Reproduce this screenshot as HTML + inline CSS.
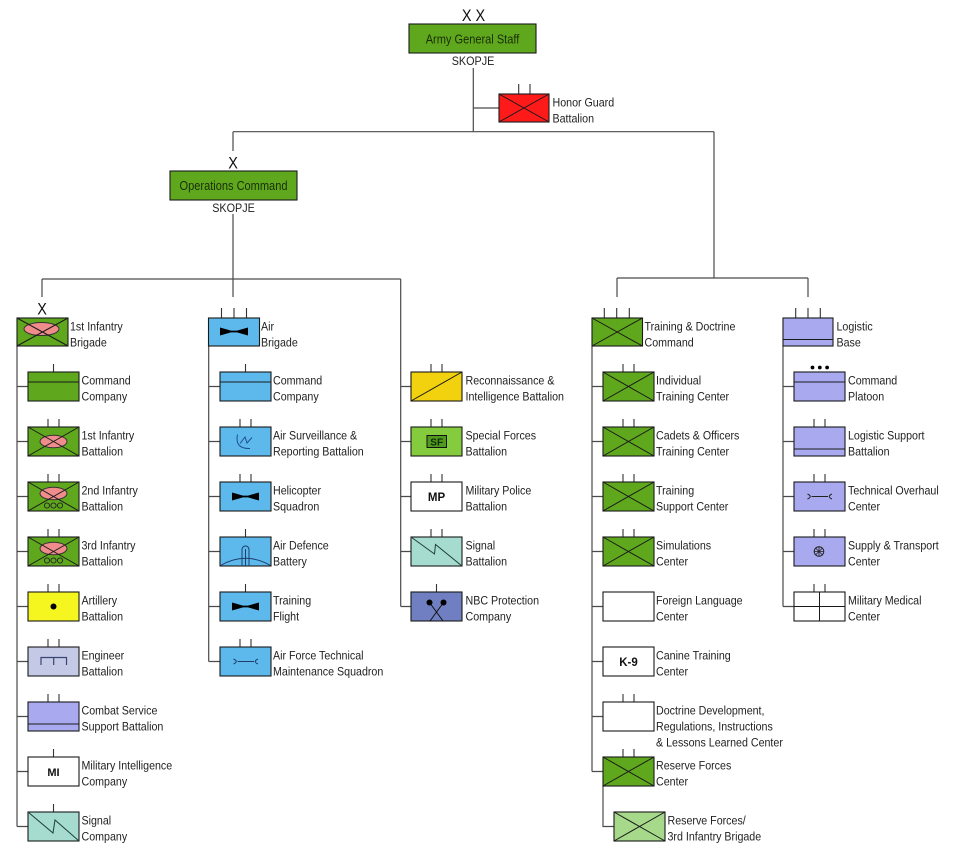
<!DOCTYPE html>
<html><head><meta charset="utf-8"><style>
html,body{margin:0;padding:0;background:#fff;}
svg{display:block;}
text{font-family:"Liberation Sans",Arial,sans-serif;font-size:12px;fill:#222;}
.ln{stroke:#4a4a4a;stroke-width:1.2;fill:none;}
.bx{stroke:#1a1a1a;stroke-width:1.1;}
.tk{stroke:#333;stroke-width:1.1;}
.xl{stroke:#1a1a1a;stroke-width:1;}
.g{fill:#5fa81e;}
.bl{fill:#5db9ec;}
.lv{fill:#a9a9f0;}
.w{fill:#fff;}
.b{font-weight:bold;}
</style></head><body>
<svg width="960" height="855" viewBox="0 0 960 855" xmlns="http://www.w3.org/2000/svg">

<!-- connectors -->
<path class="ln" d="M473.3,68 V131.7 M473.3,108 H499 M233,131.7 H714 M233,131.7 V151 M233,214 V279 M42,279 H400.7 M42,279 V297 M233,279 V297 M400.7,279 V606.5 M714,131.7 V278 M617,278 H808 M617,278 V297 M808,278 V297"/>
<path class="ln" d="M17,346 V826.5 M17,386.5 H28 M17,441.5 H28 M17,496.5 H28 M17,551.5 H28 M17,606.5 H28 M17,661.5 H28 M17,716.5 H28 M17,771.5 H28 M17,826.5 H28"/>
<path class="ln" d="M208.7,346 V661.5 M208.7,386.5 H220 M208.7,441.5 H220 M208.7,496.5 H220 M208.7,551.5 H220 M208.7,606.5 H220 M208.7,661.5 H220"/>
<path class="ln" d="M400.7,386.5 H411 M400.7,441.5 H411 M400.7,496.5 H411 M400.7,551.5 H411 M400.7,606.5 H411"/>
<path class="ln" d="M592,346 V771.5 M592,386.5 H603 M592,441.5 H603 M592,496.5 H603 M592,551.5 H603 M592,606.5 H603 M592,661.5 H603 M592,716.5 H603 M592,771.5 H603 M603,786 V826.5 H614"/>
<path class="ln" d="M783,346 V606.5 M783,386.5 H794 M783,441.5 H794 M783,496.5 H794 M783,551.5 H794 M783,606.5 H794"/>

<!-- TOP -->
<g transform="translate(473.5,21) scale(.85,1)"><text x="0" y="0" text-anchor="middle" style="font-size:17px;fill:#111">X X</text></g>
<rect class="bx g" x="409" y="24" width="127" height="29"/>
<g transform="translate(472.5,43.5) scale(.85,1)"><text x="0" y="0" text-anchor="middle" style="font-size:13px;fill:#1a2e05">Army General Staff</text></g>
<g transform="translate(473,65) scale(.9,1)"><text x="0" y="0" text-anchor="middle">SKOPJE</text></g>

<path class="tk" d="M518.7,84 V94 M530,84 V94"/>
<rect class="bx" x="499" y="94" width="50" height="28" fill="#ff1a1a"/>
<path class="xl" d="M499,94 L549,122 M549,94 L499,122"/>
<g transform="translate(552.5,0) scale(.89,1)"><text y="106.5">Honor Guard</text><text y="122.5">Battalion</text></g>

<g transform="translate(233,168.5) scale(.85,1)"><text x="0" y="0" text-anchor="middle" style="font-size:17px;fill:#111">X</text></g>
<rect class="bx g" x="170" y="171" width="127" height="29"/>
<g transform="translate(233.5,190) scale(.85,1)"><text x="0" y="0" text-anchor="middle" style="font-size:13px;fill:#1a2e05">Operations Command</text></g>
<g transform="translate(233.5,212) scale(.9,1)"><text x="0" y="0" text-anchor="middle">SKOPJE</text></g>

<!-- LEFT COLUMN -->
<g transform="translate(42,314.5) scale(.85,1)"><text x="0" y="0" text-anchor="middle" style="font-size:17px;fill:#111">X</text></g>
<rect class="bx g" x="17" y="318" width="51" height="28"/>
<ellipse cx="41.5" cy="329" rx="17.5" ry="6.5" fill="#f08c8c" stroke="#333" stroke-width="1"/>
<path class="xl" d="M17,318 L68,346 M68,318 L17,346"/>
<g transform="translate(70,0) scale(.89,1)"><text y="330.5">1st Infantry</text><text y="346.5">Brigade</text></g>

<!-- Command Company -->
<path class="tk" d="M53.5,364 V372"/>
<rect class="bx g" x="28" y="372" width="51" height="29"/>
<path class="xl" d="M28,382 H79"/>
<g transform="translate(81.5,0) scale(.89,1)"><text y="384.5">Command</text><text y="400.5">Company</text></g>

<!-- 1st Inf Bn -->
<path class="tk" d="M48,419 V427 M59,419 V427"/>
<rect class="bx g" x="28" y="427" width="51" height="29"/>
<ellipse cx="53.5" cy="441.5" rx="13.5" ry="6.3" fill="#f08c8c" stroke="#333" stroke-width="1"/>
<path class="xl" d="M28,427 L79,456 M79,427 L28,456"/>
<g transform="translate(81.5,0) scale(.89,1)"><text y="439.5">1st Infantry</text><text y="455.5">Battalion</text></g>

<!-- 2nd Inf Bn -->
<path class="tk" d="M48,474 V482 M59,474 V482"/>
<rect class="bx g" x="28" y="482" width="51" height="29"/>
<ellipse cx="53.5" cy="493.5" rx="13.5" ry="6.3" fill="#f08c8c" stroke="#333" stroke-width="1"/>
<path class="xl" d="M28,482 L79,511 M79,482 L28,511"/>
<circle cx="47" cy="505.5" r="2.6" fill="none" stroke="#222" stroke-width=".9"/>
<circle cx="53.5" cy="505.5" r="2.6" fill="none" stroke="#222" stroke-width=".9"/>
<circle cx="60" cy="505.5" r="2.6" fill="none" stroke="#222" stroke-width=".9"/>
<g transform="translate(81.5,0) scale(.89,1)"><text y="494.5">2nd Infantry</text><text y="510.5">Battalion</text></g>

<!-- 3rd Inf Bn -->
<path class="tk" d="M48,529 V537 M59,529 V537"/>
<rect class="bx g" x="28" y="537" width="51" height="29"/>
<ellipse cx="53.5" cy="548.5" rx="13.5" ry="6.3" fill="#f08c8c" stroke="#333" stroke-width="1"/>
<path class="xl" d="M28,537 L79,566 M79,537 L28,566"/>
<circle cx="47" cy="560.5" r="2.6" fill="none" stroke="#222" stroke-width=".9"/>
<circle cx="53.5" cy="560.5" r="2.6" fill="none" stroke="#222" stroke-width=".9"/>
<circle cx="60" cy="560.5" r="2.6" fill="none" stroke="#222" stroke-width=".9"/>
<g transform="translate(81.5,0) scale(.89,1)"><text y="549.5">3rd Infantry</text><text y="565.5">Battalion</text></g>

<!-- Artillery -->
<path class="tk" d="M48,584 V592 M59,584 V592"/>
<rect class="bx" x="28" y="592" width="51" height="29" fill="#f5f51f"/>
<circle cx="53.5" cy="606.5" r="3" fill="#000"/>
<g transform="translate(81.5,0) scale(.89,1)"><text y="604.5">Artillery</text><text y="620.5">Battalion</text></g>

<!-- Engineer -->
<path class="tk" d="M48,639 V647 M59,639 V647"/>
<rect class="bx" x="28" y="647" width="51" height="29" fill="#c4c9e6"/>
<path d="M41,665 V657.5 H66.5 V665 M53.7,657.5 V665" fill="none" stroke="#3a4470" stroke-width="1.2"/>
<g transform="translate(81.5,0) scale(.89,1)"><text y="659.5">Engineer</text><text y="675.5">Battalion</text></g>

<!-- CSS -->
<path class="tk" d="M48,694 V702 M59,694 V702"/>
<rect class="bx lv" x="28" y="702" width="51" height="29"/>
<path class="xl" d="M28,724 H79"/>
<g transform="translate(81.5,0) scale(.89,1)"><text y="714.5">Combat Service</text><text y="730.5">Support Battalion</text></g>

<!-- MI -->
<path class="tk" d="M53.5,749 V757"/>
<rect class="bx w" x="28" y="757" width="51" height="29"/>
<text x="53.5" y="776" text-anchor="middle" class="b" style="font-size:11px;fill:#111">MI</text>
<g transform="translate(81.5,0) scale(.89,1)"><text y="769.5">Military Intelligence</text><text y="785.5">Company</text></g>

<!-- Signal Company -->
<path class="tk" d="M53.5,804 V812"/>
<rect class="bx" x="28" y="812" width="51" height="29" fill="#a6dccf"/>
<path d="M28,812 L53,833 L55,820 L79,841" fill="none" stroke="#1f3f3a" stroke-width="1"/>
<g transform="translate(81.5,0) scale(.89,1)"><text y="824.5">Signal</text><text y="840.5">Company</text></g>

<!-- MIDDLE COLUMN -->
<path class="tk" d="M221.5,308 V318 M234,308 V318 M246.5,308 V318"/>
<rect class="bx bl" x="208.5" y="318" width="51" height="28"/>
<path d="M220,327.5 L231,330.6 L237,330.6 L248,327.5 L248,335.5 L237,332.4 L231,332.4 L220,335.5 Z" fill="#000"/>
<g transform="translate(261,0) scale(.89,1)"><text y="330.5">Air</text><text y="346.5">Brigade</text></g>

<path class="tk" d="M245.5,364 V372"/>
<rect class="bx bl" x="220" y="372" width="51" height="29"/>
<path class="xl" d="M220,382 H271"/>
<g transform="translate(273,0) scale(.89,1)"><text y="384.5">Command</text><text y="400.5">Company</text></g>

<path class="tk" d="M240,419 V427 M251,419 V427"/>
<rect class="bx bl" x="220" y="427" width="51" height="29"/>
<path d="M237.5,434.5 Q234.5,449 250,448.5 M240,443.5 L245,437 L247,443 L252,437.5" fill="none" stroke="#1d4e8c" stroke-width="1"/>
<g transform="translate(273,0) scale(.89,1)"><text y="439.5">Air Surveillance &amp;</text><text y="455.5">Reporting Battalion</text></g>

<path class="tk" d="M240,474 V482 M251,474 V482"/>
<rect class="bx bl" x="220" y="482" width="51" height="29"/>
<path d="M232,492.5 L243,495.6 L248,495.6 L259,492.5 L259,500.5 L248,497.4 L243,497.4 L232,500.5 Z" fill="#000"/>
<g transform="translate(273,0) scale(.89,1)"><text y="494.5">Helicopter</text><text y="510.5">Squadron</text></g>

<path class="tk" d="M245.5,529 V537"/>
<rect class="bx bl" x="220" y="537" width="51" height="29"/>
<path d="M220.5,565.5 Q245.5,551 270.5,565.5" fill="none" stroke="#1d3e6c" stroke-width="1"/>
<path d="M242,566 V549.5 A3.5,3.5 0 0 1 249,549.5 V566 M245.5,549 V566" fill="none" stroke="#1d3e6c" stroke-width="1"/>
<g transform="translate(273,0) scale(.89,1)"><text y="549.5">Air Defence</text><text y="565.5">Battery</text></g>

<path class="tk" d="M245.5,584 V592"/>
<rect class="bx bl" x="220" y="592" width="51" height="29"/>
<path d="M232,602.5 L243,605.6 L248,605.6 L259,602.5 L259,610.5 L248,607.4 L243,607.4 L232,610.5 Z" fill="#000"/>
<g transform="translate(273,0) scale(.89,1)"><text y="604.5">Training</text><text y="620.5">Flight</text></g>

<path class="tk" d="M240,639 V647 M251,639 V647"/>
<rect class="bx bl" x="220" y="647" width="51" height="29"/>
<path d="M233.5,659 Q239,661.5 233.5,664 M237.5,661.5 H254 M258,659 Q252.5,661.5 258,664" fill="none" stroke="#1d3e6c" stroke-width="1"/>
<g transform="translate(273,0) scale(.89,1)"><text y="659.5">Air Force Technical</text><text y="675.5">Maintenance Squadron</text></g>

<!-- THIRD COLUMN -->
<path class="tk" d="M431,364 V372 M442,364 V372"/>
<rect class="bx" x="411" y="372" width="51" height="29" fill="#f2d20f"/>
<path class="xl" d="M411,401 L462,372"/>
<g transform="translate(465.5,0) scale(.89,1)"><text y="384.5">Reconnaissance &amp;</text><text y="400.5">Intelligence Battalion</text></g>

<path class="tk" d="M431,419 V427 M442,419 V427"/>
<rect class="bx" x="411" y="427" width="51" height="29" fill="#84cc3e"/>
<rect x="427" y="435.5" width="19.5" height="12" fill="#4f9a1e" stroke="#111" stroke-width="1"/>
<text x="436.7" y="445.5" text-anchor="middle" class="b" style="font-size:10px;fill:#0f2a05">SF</text>
<g transform="translate(465.5,0) scale(.89,1)"><text y="439.5">Special Forces</text><text y="455.5">Battalion</text></g>

<path class="tk" d="M431,474 V482 M442,474 V482"/>
<rect class="bx w" x="411" y="482" width="51" height="29"/>
<text x="436.5" y="501" text-anchor="middle" class="b" style="font-size:11.5px;fill:#111">MP</text>
<g transform="translate(465.5,0) scale(.89,1)"><text y="494.5">Military Police</text><text y="510.5">Battalion</text></g>

<path class="tk" d="M431,529 V537 M442,529 V537"/>
<rect class="bx" x="411" y="537" width="51" height="29" fill="#a6dccf"/>
<path d="M411,537 L434.5,554 L435.5,544.5 L462,566" fill="none" stroke="#1f3f3a" stroke-width="1"/>
<g transform="translate(465.5,0) scale(.89,1)"><text y="549.5">Signal</text><text y="565.5">Battalion</text></g>

<path class="tk" d="M436.5,584 V592"/>
<rect class="bx" x="411" y="592" width="51" height="29" fill="#6f7fc1"/>
<path d="M429.5,602.5 L443,621 M443.5,602.5 L430,621" fill="none" stroke="#111" stroke-width="1"/>
<circle cx="429.5" cy="602.5" r="3" fill="#000"/>
<circle cx="443.5" cy="602.5" r="3" fill="#000"/>
<g transform="translate(465.5,0) scale(.89,1)"><text y="604.5">NBC Protection</text><text y="620.5">Company</text></g>

<!-- TRAINING & DOCTRINE -->
<path class="tk" d="M604.3,308 V318 M616.7,308 V318 M629.3,308 V318"/>
<rect class="bx g" x="592" y="318" width="50.5" height="28"/>
<path class="xl" d="M592,318 L642.5,346 M642.5,318 L592,346"/>
<g transform="translate(644.5,0) scale(.89,1)"><text y="330.5">Training &amp; Doctrine</text><text y="346.5">Command</text></g>

<path class="tk" d="M623,364 V372 M634,364 V372"/>
<rect class="bx g" x="603" y="372" width="51" height="29"/>
<path class="xl" d="M603,372 L654,401 M654,372 L603,401"/>
<g transform="translate(656,0) scale(.89,1)"><text y="384.5">Individual</text><text y="400.5">Training Center</text></g>

<path class="tk" d="M623,419 V427 M634,419 V427"/>
<rect class="bx g" x="603" y="427" width="51" height="29"/>
<path class="xl" d="M603,427 L654,456 M654,427 L603,456"/>
<g transform="translate(656,0) scale(.89,1)"><text y="439.5">Cadets &amp; Officers</text><text y="455.5">Training Center</text></g>

<path class="tk" d="M623,474 V482 M634,474 V482"/>
<rect class="bx g" x="603" y="482" width="51" height="29"/>
<path class="xl" d="M603,482 L654,511 M654,482 L603,511"/>
<g transform="translate(656,0) scale(.89,1)"><text y="494.5">Training</text><text y="510.5">Support Center</text></g>

<path class="tk" d="M623,529 V537 M634,529 V537"/>
<rect class="bx g" x="603" y="537" width="51" height="29"/>
<path class="xl" d="M603,537 L654,566 M654,537 L603,566"/>
<g transform="translate(656,0) scale(.89,1)"><text y="549.5">Simulations</text><text y="565.5">Center</text></g>

<rect class="bx w" x="603" y="592" width="51" height="29"/>
<g transform="translate(656,0) scale(.89,1)"><text y="604.5">Foreign Language</text><text y="620.5">Center</text></g>

<rect class="bx w" x="603" y="647" width="51" height="29"/>
<text x="628.5" y="666" text-anchor="middle" class="b" style="font-size:11.5px;fill:#111">K-9</text>
<g transform="translate(656,0) scale(.89,1)"><text y="659.5">Canine Training</text><text y="675.5">Center</text></g>

<path class="tk" d="M623,694 V702 M634,694 V702"/>
<rect class="bx w" x="603" y="702" width="51" height="29"/>
<g transform="translate(656,0) scale(.89,1)"><text y="714.5">Doctrine Development,</text><text y="730.5">Regulations, Instructions</text><text y="746.5">&amp; Lessons Learned Center</text></g>

<path class="tk" d="M623,749 V757 M634,749 V757"/>
<rect class="bx g" x="603" y="757" width="51" height="29"/>
<path class="xl" d="M603,757 L654,786 M654,757 L603,786"/>
<g transform="translate(656,0) scale(.89,1)"><text y="769.5">Reserve Forces</text><text y="785.5">Center</text></g>

<rect class="bx" x="614" y="812" width="51" height="29" fill="#a6d98a"/>
<path class="xl" d="M614,812 L665,841 M665,812 L614,841"/>
<g transform="translate(667.5,0) scale(.89,1)"><text y="824.5">Reserve Forces/</text><text y="840.5">3rd Infantry Brigade</text></g>

<!-- LOGISTICS -->
<path class="tk" d="M795.7,308 V318 M808,308 V318 M820.3,308 V318"/>
<rect class="bx lv" x="783" y="318" width="50" height="28"/>
<path class="xl" d="M783,339.5 H833"/>
<g transform="translate(836.5,0) scale(.89,1)"><text y="330.5">Logistic</text><text y="346.5">Base</text></g>

<circle cx="812.5" cy="367.5" r="1.9" fill="#000"/>
<circle cx="819.8" cy="367.5" r="1.9" fill="#000"/>
<circle cx="827.1" cy="367.5" r="1.9" fill="#000"/>
<rect class="bx lv" x="794" y="372" width="51" height="29"/>
<path class="xl" d="M794,382 H845"/>
<g transform="translate(848,0) scale(.89,1)"><text y="384.5">Command</text><text y="400.5">Platoon</text></g>

<path class="tk" d="M814,419 V427 M825,419 V427"/>
<rect class="bx lv" x="794" y="427" width="51" height="29"/>
<path class="xl" d="M794,449 H845"/>
<g transform="translate(848,0) scale(.89,1)"><text y="439.5">Logistic Support</text><text y="455.5">Battalion</text></g>

<path class="tk" d="M814,474 V482 M825,474 V482"/>
<rect class="bx lv" x="794" y="482" width="51" height="29"/>
<path d="M807.5,494 Q813,496.5 807.5,499 M811.5,496.5 H828 M832,494 Q826.5,496.5 832,499" fill="none" stroke="#222" stroke-width="1"/>
<g transform="translate(848,0) scale(.89,1)"><text y="494.5">Technical Overhaul</text><text y="510.5">Center</text></g>

<path class="tk" d="M814,529 V537 M825,529 V537"/>
<rect class="bx lv" x="794" y="537" width="51" height="29"/>
<circle cx="819" cy="551.5" r="4.8" fill="none" stroke="#222" stroke-width="1"/>
<path d="M819,546.7 V556.3 M814.2,551.5 H823.8 M815.6,548.1 L822.4,554.9 M822.4,548.1 L815.6,554.9" stroke="#222" stroke-width=".8"/>
<g transform="translate(848,0) scale(.89,1)"><text y="549.5">Supply &amp; Transport</text><text y="565.5">Center</text></g>

<path class="tk" d="M814,584 V592 M825,584 V592"/>
<rect class="bx w" x="794" y="592" width="51" height="29"/>
<path class="xl" d="M819.5,592 V621 M794,606.5 H845"/>
<g transform="translate(848,0) scale(.89,1)"><text y="604.5">Military Medical</text><text y="620.5">Center</text></g>

</svg>
</body></html>
